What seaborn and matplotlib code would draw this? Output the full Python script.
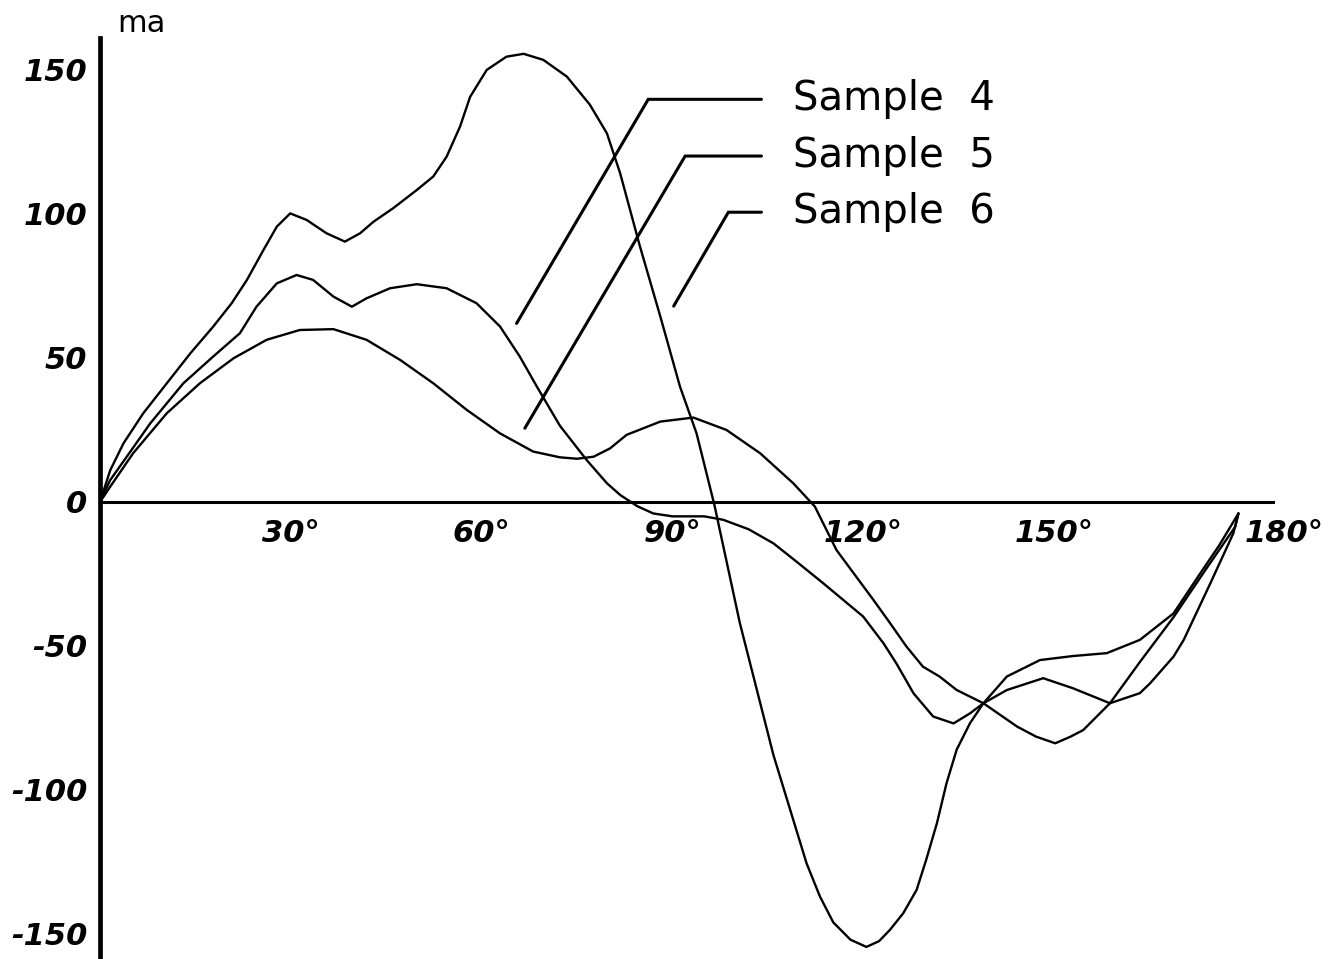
import numpy as np
import pandas as pd
import matplotlib
matplotlib.use("Agg")
import matplotlib.pyplot as plt
import seaborn as sns

# values (degrees, ma)
s4_deg = [0, 1.6, 4.2, 7.9, 13.1, 17.8, 22, 24.6, 27.8, 30.9, 33.5, 36.7, 39.6,
          41.9, 45.6, 49.8, 54.5, 59.2, 62.9, 66, 68.7, 72.3, 76.5, 79.7, 81.8,
          84.5, 87, 90, 95, 98, 102, 105.9, 109.5, 113.7, 120, 123.2, 125.2,
          127.9, 131, 134.2, 136.8, 138.9, 142.6, 148.3, 153, 158.8, 163.5,
          165.1, 168.8, 170.4, 174.6, 178.2, 179]
s4_ma = [0, 7.6, 15.7, 27.3, 41.2, 50.5, 58.6, 67.8, 75.9, 78.8, 77.1, 71.3, 67.8,
         70.7, 74.2, 75.6, 74.2, 69, 60.9, 50.5, 40, 26.5, 14.6, 6.5, 2.4,
         -1.5, -4, -5, -5, -6.2, -9.5, -14.4, -20.7, -28.2, -39.8, -49.1, -56,
         -66.4, -74.5, -76.9, -73.4, -69.9, -65.3, -61.2, -64.7, -69.9, -66.4,
         -63, -53.7, -47.9, -28.2, -10.9, -4]

s5_deg = [0, 1.6, 5.2, 10.5, 15.7, 21, 26.2, 31.4, 36.7, 41.9, 47.2, 52.4, 57.7,
          62.9, 68.1, 72.3, 75, 77.6, 80.2, 82.8, 88.1, 93.3, 98.5, 103.8, 109,
          112.4, 115.8, 121.6, 124.2, 126.8, 129.4, 132, 134.7, 138.9, 144.2,
          147.2, 150.2, 152.6, 154.6, 158.8, 163.5, 168.8, 174, 178.5, 179]
s5_ma = [0, 5.3, 16.9, 30.8, 41.2, 49.9, 56.3, 59.7, 60, 56.3, 49.3, 41.2, 31.9,
         23.8, 17.5, 15.5, 15, 15.7, 18.6, 23.3, 27.9, 29.3, 25, 16.9, 6.5,
         -1.6, -16.7, -34, -42, -50.2, -57.2, -60.6, -65.3, -69.9, -78,
         -81.5, -83.8, -81.5, -79.2, -69.9, -55.6, -40, -23, -8.6, -4]

s6_deg = [0, 1.6, 3.7, 6.8, 10.5, 14.2, 17.8, 20.7, 23.1, 25.7, 27.8, 29.9, 32.5,
          35.6, 38.5, 40.9, 43, 46.1, 49.8, 52.4, 54.5, 56.6, 58.2, 60.8, 63.9,
          66.6, 69.7, 73.4, 77, 79.7, 81.8, 84.9, 88.1, 91.2, 93.8, 96.6, 100.6,
          105.9, 111.1, 113.2, 115.3, 118, 120.5, 122.5, 124.2, 126.3, 128.4,
          129.9, 131.6, 133.1, 134.7, 136.8, 138.9, 142.6, 147.8, 153, 158.3,
          163.5, 168.8, 173, 176, 179]
s6_ma = [0, 11, 20.4, 30.8, 41.2, 51.6, 60.9, 69, 77.1, 87.5, 95.6, 100.2, 97.9,
         93.3, 90.4, 93.3, 97.3, 102, 108.3, 113, 119.9, 130.3, 140.7, 150, 154.6,
         155.6, 153.5, 147.7, 138, 128, 114, 88.7, 64.4, 40, 23.8, -1, -42,
         -88, -125.5, -137, -146, -152, -154.5, -152.5, -148.6, -142.8, -134.7,
         -124.3, -111.5, -97.7, -86, -76.8, -69.9, -60.6, -54.9, -53.5, -52.5,
         -47.9, -38.7, -24.8, -15, -4]

samples = ["Sample  4", "Sample  5", "Sample  6"]
y_ticks = [-150, -100, -50, 0, 50, 100, 150]
y_ticklabels = ["-150", "-100", "-50", "0", "50", "100", "150"]
x_ticks = [30, 60, 90, 120, 150, 180]
x_ticklabels = ["30°", "60°", "90°", "120°", "150°", "180°"]

# leader lines: label height, elbow, and tip near each curve
label_ma = [139.8, 120.1, 100.6]
elbow_deg = [86.2, 92, 98.8]
tip_deg = [65.5, 66.8, 90.2]
tip_ma = [62, 25.6, 68]

df = pd.concat([
    pd.DataFrame({"deg": s4_deg, "ma": s4_ma, "sample": samples[0]}),
    pd.DataFrame({"deg": s5_deg, "ma": s5_ma, "sample": samples[1]}),
    pd.DataFrame({"deg": s6_deg, "ma": s6_ma, "sample": samples[2]}),
])

sns.set_style("white")
plt.rcParams["font.family"] = ["DejaVu Sans"]
plt.rcParams["text.color"] = "black"

fig = plt.figure(figsize=(13.32, 9.59), dpi=100)
ax = fig.add_axes([0.0751, 0.0021, 0.8809, 0.958])

sns.lineplot(data=df, x="deg", y="ma", hue="sample", palette=["black"] * 3,
             estimator=None, sort=False, legend=False, lw=1.7, ax=ax)
for ln in ax.get_lines():
    ln.set_solid_joinstyle("round")

ax.set_xlim(0, 184.5)
ax.set_ylim(-158, 161)
ax.set_xlabel("")
ax.set_ylabel("")

for side in ["top", "right"]:
    ax.spines[side].set_visible(False)
ax.spines["left"].set_linewidth(3.4)
ax.spines["left"].set_color("black")
ax.spines["bottom"].set_position(("data", 0))
ax.spines["bottom"].set_linewidth(2.2)
ax.spines["bottom"].set_color("black")

ax.set_yticks(y_ticks)
ax.set_yticklabels(y_ticklabels, fontsize=22, style="italic", weight="bold")
ax.set_xticks(x_ticks)
ax.set_xticklabels(x_ticklabels, fontsize=22, style="italic", weight="bold")
ax.tick_params(axis="y", direction="in", length=9, width=2, pad=9, colors="black")
ax.tick_params(axis="x", direction="in", length=7, width=1.5, pad=12, colors="black")
ax.get_xticklabels()[-1].set_horizontalalignment("left")

ax.text(6.5, 166, "ma", fontsize=22, ha="center", va="center", clip_on=False)

for name, ly, ex, tx, ty in zip(samples, label_ma, elbow_deg, tip_deg, tip_ma):
    ax.plot([104, ex, tx], [ly, ly, ty], color="black", lw=2.2,
            solid_joinstyle="miter")
    ax.text(109, ly, name, fontsize=29, ha="left", va="center")

fig.savefig("out.png", dpi=100)
